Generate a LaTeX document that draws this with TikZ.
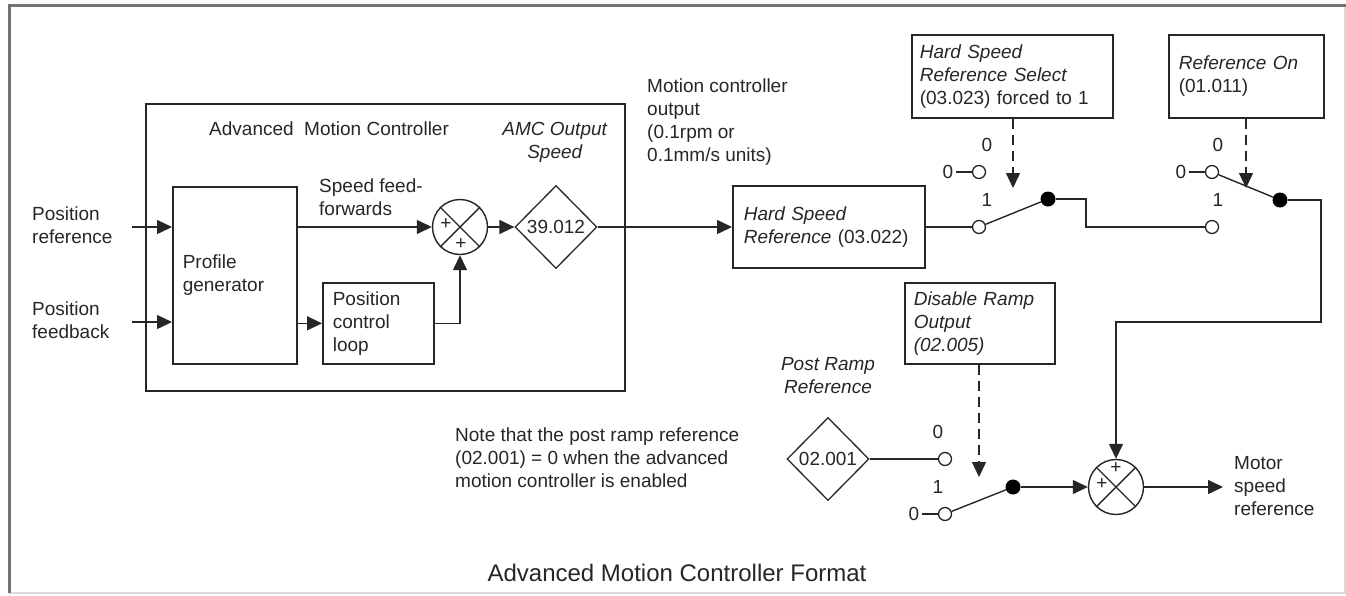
\documentclass[tikz,border=0pt]{standalone}
\usepackage{fontspec}
\setmainfont{Liberation Sans}
\usetikzlibrary{arrows.meta,shapes.geometric}
\begin{document}
\begin{tikzpicture}[x=1pt,y=-1pt,
 txt/.style={inner sep=0pt, align=left, font=\fontsize{19}{23}\selectfont, text=black!85},
 bx/.style={draw=black!85, line width=1.6pt, inner xsep=#1, inner ysep=0pt, align=left, anchor=north west, font=\fontsize{19}{23}\selectfont, text=black!85},
 bx/.default=10pt,
 ln/.style={draw=black!85, line width=1.4pt},
 arr/.style={ln, -{Triangle[length=15pt,width=14pt]}},
 dsh/.style={ln, dash pattern=on 10pt off 6pt, -{Triangle[length=15pt,width=14pt]}},
 term/.style={circle, draw=black!85, line width=1.3pt, fill=white, inner sep=0pt, minimum size=13pt},
 dotn/.style={circle, fill=black, inner sep=0pt, minimum size=15pt},
 sumj/.style={circle, draw=black!85, line width=1.4pt, inner sep=0pt, minimum size=55pt},
 plus/.style={inner sep=0pt, font=\fontsize{19}{19}\selectfont, text=black!85},
 dia/.style={diamond, draw=black!85, line width=1.3pt, inner sep=0pt, minimum width=82pt, minimum height=83pt, font=\fontsize{19}{23}\selectfont, text=black!85}
]
\useasboundingbox (0,0) rectangle (1346,595);
% frame
\draw[draw=black!15, line width=1.5pt] (1345,5) -- (1345,593) -- (9,593);
\draw[draw=black!55, line width=3pt] (9,593) -- (9,5) -- (1346,5);

% boxes
\node[bx, minimum width=479pt, minimum height=287pt] (amc) at (145,103) {};
\node[bx, text width=104pt, minimum height=177pt] (pg) at (172,186) {Profile\\generator};
\node[bx, text width=91pt, minimum height=81pt] (pcl) at (322,282) {Position\\control\\loop};
\node[bx=11pt, text width=170pt, minimum height=82pt] (hsr) at (732,185) {\textit{Hard Speed}\\\textit{Reference} (03.022)};
\node[bx=8pt, text width=185pt, minimum height=83pt] (hsrs) at (911,34) {\textit{Hard Speed}\\\textit{Reference Select}\\(03.023) forced to 1};
\node[bx, text width=135pt, minimum height=83pt] (ron) at (1168,34) {\textit{Reference On}\\(01.011)};
\node[bx=9pt, text width=132pt, minimum height=81pt] (dro) at (904,282) {\textit{Disable Ramp}\\\textit{Output}\\\textit{(02.005)}};

% summing junctions and diamonds
\node[sumj] (s1) at (460,227) {};
\draw[ln] (s1.north west) -- (s1.south east) (s1.north east) -- (s1.south west);
\node[plus] (s1a) at (446,224) {+};
\node[plus] (s1b) at (461,244) {+};
\node[sumj] (s2) at (1116,487) {};
\draw[ln] (s2.north west) -- (s2.south east) (s2.north east) -- (s2.south west);
\node[plus] (s2a) at (1116,468) {+};
\node[plus] (s2b) at (1102,484) {+};
\node[dia] (d1) at (556,227) {39.012};
\node[dia] (d2) at (828,459) {02.001};

% labels
\node[txt, anchor=west] (lpr) at (32,225) {Position\\reference};
\node[txt, anchor=west] (lpf) at (32,320.5) {Position\\feedback};
\node[txt, anchor=west] (lamc) at (209,129) {Advanced\ \ Motion Controller};
\node[txt, align=center] (lams) at (555,142.5) {\textit{AMC Output}\\\textit{Speed}};
\node[txt, anchor=west] (lsff) at (319,197.5) {Speed feed-\\forwards};
\node[txt, anchor=west] (lmco) at (647,122) {Motion controller\\output\\(0.1rpm or\\0.1mm/s units)};
\node[txt, align=center] (lprr) at (828,376) {\textit{Post Ramp}\\\textit{Reference}};
\node[txt, anchor=west] (lnote) at (455,458) {Note that the post ramp reference\\(02.001) = 0 when the advanced\\motion controller is enabled};
\node[txt, anchor=west] (lmsr) at (1234,486) {Motor\\speed\\reference};
\node[txt, font=\fontsize{24}{28}\selectfont] (title) at (677,573) {Advanced Motion Controller Format};

% switch 1
\node[term] (t10) at (979,172) {};
\node[term] (t11) at (979,227) {};
\node[dotn] (dt1) at (1048,199) {};
\node[txt] (l10a) at (987,145) {0};
\node[txt] (l11) at (987,200) {1};
\node[txt] (l10b) at (948,172) {0};
% switch 2
\node[term] (t20) at (1212,172) {};
\node[term] (t21) at (1212,227) {};
\node[dotn] (dt2) at (1280,200) {};
\node[txt] (l20a) at (1218,145) {0};
\node[txt] (l21) at (1218,200) {1};
\node[txt] (l20b) at (1181,172) {0};
% switch 3
\node[term] (t30) at (945,459) {};
\node[term] (t31) at (945,514) {};
\node[dotn] (dt3) at (1013,487) {};
\node[txt] (l30) at (938,432) {0};
\node[txt] (l31) at (938,487) {1};
\node[txt] (l32) at (914,514) {0};

% coordinates
\coordinate (pr) at (132,227);
\coordinate (pf) at (132,322);
\coordinate (k1) at (1086,199);
\coordinate (k2) at (1321,322);
\coordinate (a1) at (1013,188);
\coordinate (a2) at (1246,188);
\coordinate (a3) at (979,477);
\coordinate (out) at (1223,487);

% connectors
\draw[arr] (pr) -- (pr -| pg.west);
\draw[arr] (pf) -- (pf -| pg.west);
\draw[arr] (pg.east |- s1) -- (s1.west);
\draw[arr] (pg.east |- pcl) -- (pcl.west);
\draw[arr] (pcl.east) -| (s1.south);
\draw[arr] (s1.east) -- (d1.west);
\draw[arr] (d1.east) -- (d1.east -| hsr.west);
\draw[ln] (hsr.east |- t11) -- (t11.west);
\draw[ln] ([xshift=3pt]l10b.east) -- (t10.west);
\draw[ln] (t11) -- (dt1);
\draw[ln] (dt1) -- (k1) |- (t21.west);
\draw[ln] ([xshift=3pt]l20b.east) -- (t20.west);
\draw[ln] (t20) -- (dt2);
\draw[arr] (dt2) -| (k2) -| (s2.north);
\draw[dsh] (hsrs.south -| a1) -- (a1);
\draw[dsh] (ron.south -| a2) -- (a2);
\draw[dsh] (dro.south -| a3) -- (a3);
\draw[ln] (d2.east) -- (d2.east -| t30.west);
\draw[ln] ([xshift=3pt]l32.east) -- (t31.west);
\draw[ln] (t31) -- (dt3);
\draw[arr] (dt3) -- (s2.west);
\draw[arr] (s2.east) -- (out);
\end{tikzpicture}
\end{document}
